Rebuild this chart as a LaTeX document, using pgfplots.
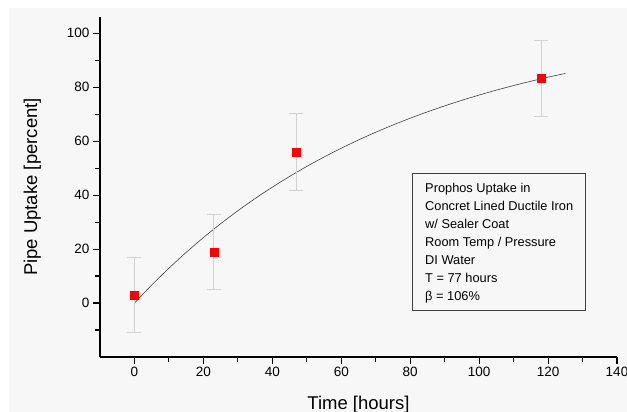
\documentclass[border=0pt]{standalone}
\usepackage{fontspec}
\setmainfont{Liberation Sans}
\usepackage{pgfplots}
\usepackage{pgfplotstable}
\pgfplotsset{compat=1.18}
\definecolor{bg}{HTML}{F7F7F7}
\definecolor{errgray}{HTML}{D2D2D2}

% measured uptake, +/- error
\pgfplotstableread{
t    u     e
0    3.0   13.8
23   19.0  14.0
47   56.0  14.2
118  83.2  14.0
}\uptake

% fitted curve, T = 77 h, beta = 106 %
\pgfplotstableread{
t    y
0    0.00
5    6.66
10   12.91
15   18.76
20   24.25
25   29.39
30   34.20
35   38.72
40   42.95
45   46.91
50   50.63
55   54.11
60   57.37
65   60.43
70   63.29
75   65.98
80   68.49
85   70.85
90   73.06
95   75.13
100  77.07
105  78.89
110  80.60
115  82.19
120  83.69
125  85.09
}\fit

\begin{document}
\begin{tikzpicture}
\path[use as bounding box] (-100pt,-55pt) rectangle (527pt,357pt);
\fill[bg] (-91pt,-55pt) rectangle (527pt,349pt);
\begin{axis}[
  at={(0,0)}, anchor=south west,
  scale only axis, width=517pt, height=340pt,
  xmin=-10, xmax=140, ymin=-20, ymax=106,
  axis x line*=bottom, axis y line*=left,
  axis line style={line width=1.1pt},
  xtick={0,20,...,140}, ytick={0,20,...,100},
  minor xtick={10,30,...,130}, minor ytick={-10,10,...,90},
  tick align=outside,
  major tick length=7pt, minor tick length=5pt,
  every tick/.style={black, line width=1.1pt},
  tick label style={font=\fontsize{13.5}{15}\selectfont},
  /pgf/number format/assume math mode=true,
  xlabel={Time [hours]}, ylabel={Pipe Uptake [percent]},
  label style={font=\fontsize{18.5}{20}\selectfont},
  xlabel shift=12pt, ylabel shift=19pt,
  clip=false,
]
\addplot[black!75, line width=0.6pt, smooth] table[x=t, y=y] {\fit};
\addplot[only marks, mark=square*, mark size=4pt, color=red,
  error bars/.cd, y dir=both, y explicit,
  error bar style={errgray, line width=0.8pt},
  error mark options={rotate=90, mark size=7pt, errgray, line width=0.8pt}]
  table[x=t, y=u, y error=e] {\uptake};
\draw[black!75, fill=bg, line width=0.6pt] (axis cs:80.6,48) rectangle (axis cs:130.7,-2.7);
\node[anchor=north west, align=left, inner sep=0pt,
  font=\fontsize{12.8}{18}\selectfont] at (axis cs:84.3,44.5)
  {Prophos Uptake in\\Concret Lined Ductile Iron\\w/ Sealer Coat\\Room Temp / Pressure\\DI Water\\T = 77 hours\\β = 106\%};
\end{axis}
\end{tikzpicture}
\end{document}
